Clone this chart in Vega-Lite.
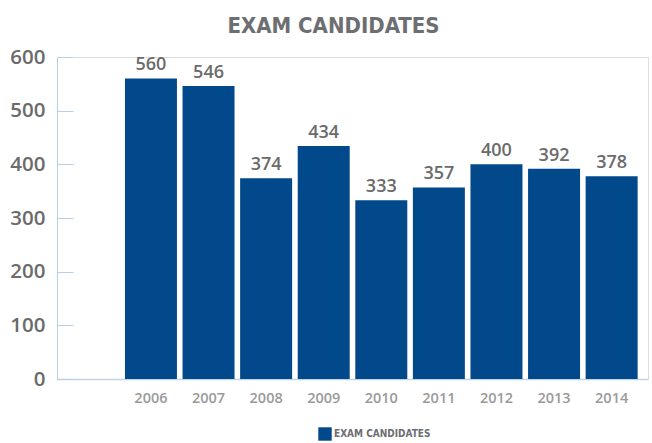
{
  "$schema": "https://vega.github.io/schema/vega-lite/v6.json",
  "autosize": {"type": "none"},
  "width": 591,
  "height": 322,
  "padding": {"left": 57, "top": 57, "right": 4, "bottom": 64},
  "background": "white",
  "title": {
    "text": "EXAM CANDIDATES",
    "font": "DejaVu Sans Condensed",
    "fontSize": 22,
    "fontWeight": "bold",
    "color": "#6d6e71",
    "anchor": "middle",
    "dx": -19,
    "offset": 9
  },
  "data": {
    "values": [
      {"year": "2006", "candidates": 560, "series": "EXAM CANDIDATES"},
      {"year": "2007", "candidates": 546, "series": "EXAM CANDIDATES"},
      {"year": "2008", "candidates": 374, "series": "EXAM CANDIDATES"},
      {"year": "2009", "candidates": 434, "series": "EXAM CANDIDATES"},
      {"year": "2010", "candidates": 333, "series": "EXAM CANDIDATES"},
      {"year": "2011", "candidates": 357, "series": "EXAM CANDIDATES"},
      {"year": "2012", "candidates": 400, "series": "EXAM CANDIDATES"},
      {"year": "2013", "candidates": 392, "series": "EXAM CANDIDATES"},
      {"year": "2014", "candidates": 378, "series": "EXAM CANDIDATES"}
    ]
  },
  "encoding": {
    "x": {
      "field": "year",
      "type": "nominal",
      "sort": null,
      "scale": {
        "domain": [" ", "2006", "2007", "2008", "2009", "2010", "2011", "2012", "2013", "2014"],
        "paddingInner": 0.097,
        "paddingOuter": 0.18
      },
      "axis": {
        "title": null,
        "labelAngle": 0,
        "ticks": false,
        "labelPadding": 12,
        "labelFont": "Open Sans",
        "labelFontSize": 14.5,
        "labelFontWeight": 600,
        "labelColor": "#9a9a9a",
        "domainColor": "#c4d3e2",
        "domainWidth": 1.5,
        "grid": false
      }
    },
    "y": {
      "field": "candidates",
      "type": "quantitative",
      "scale": {"domain": [0, 600], "nice": false},
      "axis": {
        "title": null,
        "values": [0, 100, 200, 300, 400, 500, 600],
        "grid": false,
        "tickSize": -16,
        "tickColor": "#b9cfe3",
        "tickWidth": 1,
        "labelPadding": 28,
        "labelFont": "Open Sans",
        "labelFontSize": 20.5,
        "labelFontWeight": 600,
        "labelColor": "#6b6b6b",
        "domainColor": "#b9cfe3",
        "domainWidth": 1
      }
    }
  },
  "layer": [
    {
      "mark": {"type": "bar", "color": "#02498b"},
      "encoding": {
        "color": {
          "field": "series",
          "type": "nominal",
          "scale": {"range": ["#02498b"]},
          "legend": {
            "title": null,
            "orient": "none",
            "legendX": 261,
            "legendY": 370,
            "symbolType": "square",
            "symbolSize": 180,
            "symbolStrokeWidth": 0,
            "symbolOpacity": 1,
            "labelFont": "DejaVu Sans Condensed",
            "labelFontSize": 10,
            "labelFontWeight": "bold",
            "labelColor": "#6d6e71",
            "labelOffset": 2
          }
        }
      }
    },
    {
      "mark": {
        "type": "text",
        "baseline": "alphabetic",
        "dy": -8,
        "font": "Open Sans",
        "fontSize": 18,
        "fontWeight": 600,
        "color": "#6b6b6b"
      },
      "encoding": {
        "text": {"field": "candidates", "type": "quantitative"}
      }
    }
  ]
}
